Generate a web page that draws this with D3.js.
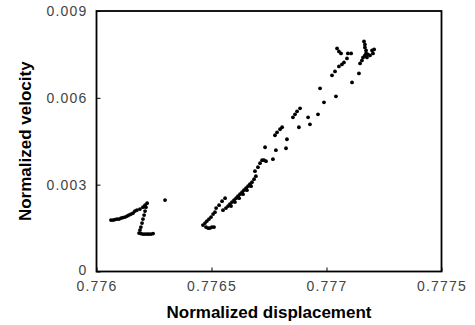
<!DOCTYPE html>
<html>
<head>
<meta charset="utf-8">
<script src="https://cdn.jsdelivr.net/npm/d3@7"></script>
<style>
    body { margin: 0; background: #fff; }
    #phase-plot { width: 475px; height: 325px; }
</style>
</head>
<body>
<div id="phase-plot"></div>
<script>
// Data: displacement (x) and velocity (y), grouped by cluster
const leftDisp = [0.776063, 0.776072, 0.776080, 0.776089, 0.776098, 0.776107, 0.776115, 0.776124, 0.776133, 0.776141, 0.776150, 0.776159, 0.776167, 0.776176,
    0.776189, 0.776202, 0.776211, 0.776220,
    0.776215, 0.776211, 0.776207, 0.776202, 0.776198, 0.776193, 0.776189,
    0.776185, 0.776193, 0.776202, 0.776211, 0.776220, 0.776228, 0.776237, 0.776246,
    0.776298];
const leftVel = [0.001776, 0.001776, 0.001793, 0.001810, 0.001810, 0.001845, 0.001862, 0.001879, 0.001914, 0.001948, 0.001983, 0.002017, 0.002086, 0.002121,
    0.002155, 0.002224, 0.002293, 0.002362,
    0.002224, 0.002086, 0.001948, 0.001810, 0.001672, 0.001534, 0.001431,
    0.001328, 0.001310, 0.001293, 0.001293, 0.001293, 0.001293, 0.001293, 0.001310,
    0.002466];

const midDisp = [0.776463, 0.776472, 0.776480, 0.776489, 0.776498, 0.776507, 0.776515,
    0.776476, 0.776485, 0.776493, 0.776502, 0.776511,
    0.776520, 0.776533, 0.776546, 0.776559,
    0.776572, 0.776580, 0.776589, 0.776598, 0.776607, 0.776615, 0.776624, 0.776633, 0.776641, 0.776650, 0.776659, 0.776667, 0.776676, 0.776685, 0.776693,
    0.776585, 0.776602, 0.776620, 0.776637, 0.776654, 0.776672, 0.776563, 0.776550,
    0.776689, 0.776702, 0.776711, 0.776720];
const midVel = [0.001603, 0.001672, 0.001741, 0.001810, 0.001879, 0.001983, 0.002050,
    0.001534, 0.001500, 0.001500, 0.001534, 0.001534,
    0.002190, 0.002293, 0.002431, 0.002534,
    0.002259, 0.002328, 0.002397, 0.002466, 0.002534, 0.002603, 0.002672, 0.002741, 0.002810, 0.002879, 0.002948, 0.003017, 0.003086, 0.003190, 0.003293,
    0.002259, 0.002397, 0.002534, 0.002672, 0.002810, 0.002948, 0.002190, 0.002120,
    0.003466, 0.003603, 0.003741, 0.003845];

const topDisp = [0.776728, 0.776737, 0.776767, 0.776733, 0.776780, 0.776824, 0.776828,
    0.776776, 0.776785, 0.776798, 0.776807, 0.776854, 0.776863, 0.776872, 0.776885,
    0.776880, 0.776928, 0.776920, 0.776963, 0.776989, 0.777041, 0.776972,
    0.777024, 0.777037, 0.777054, 0.777067, 0.777076, 0.777089, 0.777111, 0.777141,
    0.777046, 0.777054, 0.777063, 0.777093, 0.777107,
    0.777159, 0.777167, 0.777180, 0.777189, 0.777198, 0.777202,
    0.777163, 0.777167, 0.777167, 0.777172, 0.777172, 0.777154, 0.777146, 0.777176, 0.777207];
const topVel = [0.003845, 0.003810, 0.003879, 0.004293, 0.004190, 0.004259, 0.004569,
    0.004707, 0.004810, 0.004914, 0.004983, 0.005328, 0.005431, 0.005534, 0.005638,
    0.004983, 0.005086, 0.005328, 0.005431, 0.005845, 0.006052, 0.006328,
    0.006776, 0.006914, 0.007086, 0.007155, 0.007224, 0.007362, 0.006534, 0.006845,
    0.007707, 0.007603, 0.007534, 0.007534, 0.007534,
    0.007397, 0.007466, 0.007500, 0.007466, 0.007638, 0.007534,
    0.007948, 0.007845, 0.007741, 0.007638, 0.007534, 0.007293, 0.007190, 0.007397, 0.007672];

const xTicks = [0.776, 0.7765, 0.777, 0.7775];
const yTicks = [0, 0.003, 0.006, 0.009];

render();

function render() {
    const divID = d3.select('#phase-plot');
    scatter_plot(divID, {
        width: 475,
        height: 325,
        margin: { top: 11, bottom: 53.5, left: 96.5, right: 33.5 }
    });
}

function scatter_plot(selection, props) {
    const { width, height, margin } = props;
    const innerW = width - margin.left - margin.right;
    const innerH = height - margin.top - margin.bottom;

    const svg = selection.append('svg')
        .attr('width', width)
        .attr('height', height);

    const g = svg.append('g')
        .attr('transform', `translate(${margin.left},${margin.top})`);

    const x = d3.scaleLinear().domain([0.776, 0.7775]).range([0, innerW]);
    const y = d3.scaleLinear().domain([0, 0.009]).range([innerH, 0]);

    // zip the clusters into one list of points
    const points = [];
    [[leftDisp, leftVel], [midDisp, midVel], [topDisp, topVel]].forEach(function (pair) {
        pair[0].forEach(function (d, i) { points.push([d, pair[1][i]]); });
    });

    const fmt = d => d === 0 ? '0' : String(d);

    // axes with ticks pointing inward
    const xAxis = g.append('g')
        .attr('transform', `translate(0,${innerH})`)
        .call(d3.axisBottom(x).tickValues(xTicks).tickFormat(fmt).tickSizeInner(-4).tickSizeOuter(0).tickPadding(10));
    const yAxis = g.append('g')
        .call(d3.axisLeft(y).tickValues(yTicks).tickFormat(fmt).tickSizeInner(-4).tickSizeOuter(0).tickPadding(9));

    [xAxis, yAxis].forEach(function (a) {
        a.select('.domain').remove();
        a.selectAll('.tick line').attr('stroke', '#000').attr('stroke-width', 1);
        a.selectAll('.tick text')
            .style('font-family', 'Liberation Sans, Arial, sans-serif')
            .style('font-size', '14px')
            .style('letter-spacing', '1.2px')
            .attr('fill', '#444');
    });
    // lift the "0" a little so it clears the first x label
    yAxis.selectAll('.tick text').filter(d => d === 0).attr('dy', '0.2em');

    // frame around the plot area
    g.append('rect')
        .attr('width', innerW)
        .attr('height', innerH)
        .attr('fill', 'none')
        .attr('stroke', '#000')
        .attr('stroke-width', 1.8);

    g.selectAll('circle')
        .data(points)
        .join('circle')
        .attr('cx', d => x(d[0]))
        .attr('cy', d => y(d[1]))
        .attr('r', 1.9)
        .attr('fill', '#000');

    // axis titles
    svg.append('text')
        .attr('x', margin.left + innerW / 2)
        .attr('y', 318)
        .attr('text-anchor', 'middle')
        .style('font-family', 'Liberation Sans, Arial, sans-serif')
        .style('font-size', '17px')
        .style('font-weight', 'bold')
        .text('Normalized displacement');

    svg.append('text')
        .attr('transform', `translate(31,${margin.top + innerH / 2}) rotate(-90)`)
        .attr('text-anchor', 'middle')
        .style('font-family', 'Liberation Sans, Arial, sans-serif')
        .style('font-size', '17px')
        .style('font-weight', 'bold')
        .text('Normalized velocity');
}
</script>
</body>
</html>
